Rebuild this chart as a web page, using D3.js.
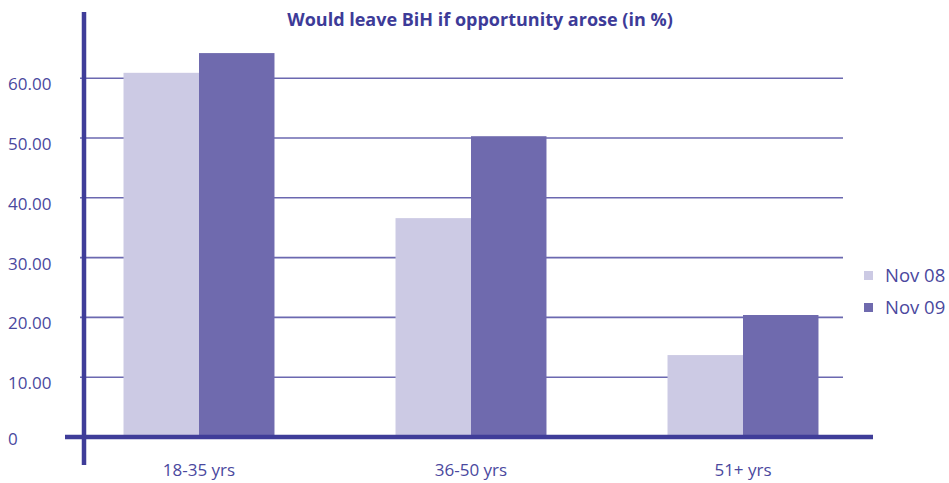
<!doctype html>
<meta charset="utf-8">
<title>Would leave BiH</title>
<style>
body { margin: 0; background: #fff; }
svg { display: block; font-family: "Open Sans", sans-serif; }
.ylab, .xlab, .leg { fill: #4a489e; font-size: 17px; }
.leg { font-size: 18.5px; }
.title { fill: #3d3b98; font-size: 18px; font-weight: bold; }
</style>
<script src="https://d3js.org/d3.v7.min.js"></script>
<body>
<script>
var width = 949, height = 483;

// data
var groups = ["18-35 yrs", "36-50 yrs", "51+ yrs"];
var series = ["Nov 08", "Nov 09"];
var nov08 = [60.9, 36.6, 13.7];
var nov09 = [64.2, 50.3, 20.4];
var yTicks = [0, 10, 20, 30, 40, 50, 60];
var colors = ["#cccae4", "#6f6aae"];

var svg = d3.select("body").append("svg")
    .attr("width", width)
    .attr("height", height);

var x = d3.scaleBand()
    .domain(groups)
    .range([63, 879])
    .paddingInner(0.445)
    .paddingOuter(0.2225);

var x1 = d3.scaleBand()
    .domain(series)
    .range([0, x.bandwidth()]);

var y = d3.scaleLinear()
    .domain([0, 50])
    .range([437, 138]);

// gridlines
svg.append("g").selectAll("line.grid")
    .data(yTicks.filter(function(d) { return d > 0; }))
  .enter().append("line")
    .attr("class", "grid")
    .attr("x1", 80).attr("x2", 843)
    .attr("y1", function(d) { return y(d); })
    .attr("y2", function(d) { return y(d); })
    .attr("stroke", "#6b68b0")
    .attr("stroke-width", 1.6);

// y labels
svg.append("g").selectAll("text.ylab")
    .data(yTicks)
  .enter().append("text")
    .attr("class", "ylab")
    .attr("x", 8)
    .attr("y", function(d) { return y(d) + (d == 0 ? 2 : 6); })
    .attr("dy", "0.35em")
    .text(function(d) { return d == 0 ? "0" : d3.format(".2f")(d); });

// bars
var rows = groups.map(function(g, i) { return {g: g, vals: [nov08[i], nov09[i]]}; });
var grp = svg.append("g").selectAll("g.grp")
    .data(rows)
  .enter().append("g")
    .attr("transform", function(d) { return "translate(" + x(d.g) + ",0)"; });

grp.selectAll("rect")
    .data(function(d) { return d.vals.map(function(v, j) { return {s: series[j], v: v, j: j}; }); })
  .enter().append("rect")
    .attr("x", function(d) { return x1(d.s); })
    .attr("width", x1.bandwidth())
    .attr("y", function(d) { return y(d.v); })
    .attr("height", function(d) { return y(0) - y(d.v); })
    .attr("fill", function(d) { return colors[d.j]; });

// axes (thick lines)
svg.append("line")
    .attr("x1", 84).attr("x2", 84)
    .attr("y1", 12).attr("y2", 465)
    .attr("stroke", "#3f3d99").attr("stroke-width", 4.5);
svg.append("line")
    .attr("x1", 65).attr("x2", 873)
    .attr("y1", y(0)).attr("y2", y(0))
    .attr("stroke", "#3f3d99").attr("stroke-width", 4.5);

// x labels
svg.append("g").selectAll("text.xlab")
    .data(groups)
  .enter().append("text")
    .attr("class", "xlab")
    .attr("x", function(d) { return x(d) + x.bandwidth() / 2; })
    .attr("y", 470)
    .attr("dy", "0.35em")
    .attr("text-anchor", "middle")
    .text(function(d) { return d; });

// title
svg.append("text")
    .attr("class", "title")
    .attr("x", 480)
    .attr("y", 20)
    .attr("dy", "0.35em")
    .attr("text-anchor", "middle")
    .text("Would leave BiH if opportunity arose (in %)");

// legend
var leg = svg.append("g").selectAll("g.leg")
    .data(series)
  .enter().append("g")
    .attr("transform", function(d, i) { return "translate(864," + (271 + i * 32) + ")"; });
leg.append("rect")
    .attr("width", 9).attr("height", 9)
    .attr("fill", function(d, i) { return colors[i]; });
leg.append("text")
    .attr("class", "leg")
    .attr("x", 21)
    .attr("y", 4.5)
    .attr("dy", "0.35em")
    .text(function(d) { return d; });
</script>
